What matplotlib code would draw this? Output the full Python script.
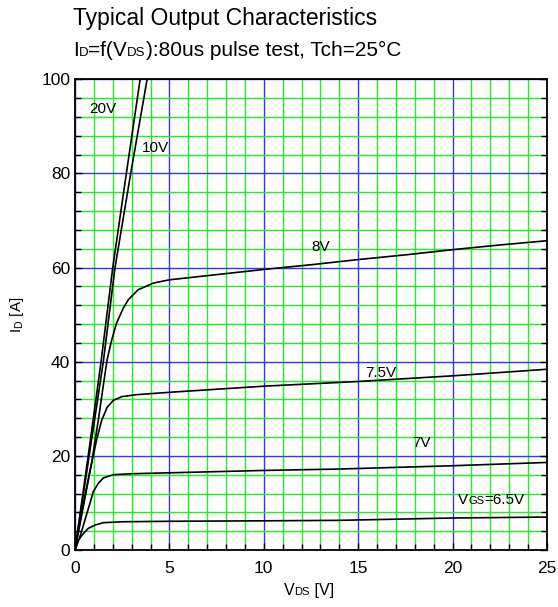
import numpy as np
import matplotlib
matplotlib.use('Agg')
import matplotlib.pyplot as plt
from matplotlib.ticker import MultipleLocator
from matplotlib.offsetbox import TextArea, HPacker, AnchoredOffsetbox

plt.rcParams['font.family'] = ['Liberation Sans', 'DejaVu Sans']
plt.rcParams['mathtext.fontset'] = 'custom'
plt.rcParams['mathtext.rm'] = 'Liberation Sans'

# curves (VDS [V], ID [A])
vds_20 = [0, 0.7, 1.38, 2.0, 2.72, 3.45]
id_20 = [0, 20, 40, 60, 80, 100]
vds_10 = [0, 0.75, 1.5, 2.12, 2.95, 3.82]
id_10 = [0, 20, 40, 60, 80, 100]
vds_8 = [0, 0.44, 0.88, 1.24, 1.5, 1.7, 1.95, 2.2, 2.56, 2.83, 3.35, 4.15, 5.0,
         7.5, 10, 12.5, 15, 17.5, 20, 22.5, 25]
id_8 = [0, 9.2, 18.5, 27.7, 35, 40.4, 44.7, 48.2, 51.4, 53.2, 55.3, 56.7, 57.4,
        58.5, 59.6, 60.6, 61.7, 62.7, 63.8, 64.8, 65.7]
vds_75 = [0, 0.4, 0.8, 1.15, 1.41, 1.7, 2.03, 2.5, 3.27, 5.0, 10, 15, 20, 25]
id_75 = [0, 9, 17, 23.5, 27.5, 30.3, 31.8, 32.6, 33.0, 33.5, 34.8, 35.8, 37.0, 38.4]
vds_7 = [0, 0.26, 0.53, 0.79, 0.97, 1.24, 1.5, 2.03, 3.0, 5.0, 10, 14, 20, 25]
id_7 = [0, 2.8, 6.4, 9.9, 12.4, 14.2, 15.3, 16.0, 16.2, 16.4, 16.9, 17.2, 17.9, 18.6]
vds_65 = [0, 0.18, 0.44, 0.71, 1.06, 1.5, 2.5, 5.0, 10, 14, 20, 25]
id_65 = [0, 2.1, 3.5, 4.6, 5.3, 5.8, 6.0, 6.1, 6.2, 6.3, 6.8, 7.0]

curves = [(vds_20, id_20), (vds_10, id_10), (vds_8, id_8),
          (vds_75, id_75), (vds_7, id_7), (vds_65, id_65)]


def sub_text(parts, big, small):
    # pieces of text, every second one written small on the same baseline
    boxes = []
    for i, p in enumerate(parts):
        size = small if i % 2 else big
        boxes.append(TextArea(p, textprops=dict(fontsize=size, color='black')))
    return HPacker(children=boxes, align='baseline', pad=0, sep=0)


def place(fig, box, x, y, loc='center left'):
    ab = AnchoredOffsetbox(loc=loc, child=box, bbox_to_anchor=(x, y),
                           bbox_transform=fig.transFigure, frameon=False,
                           pad=0, borderpad=0)
    fig.add_artist(ab)


fig = plt.figure(figsize=(5.58, 6.07), dpi=100)
ax = fig.add_axes([0.1344, 0.0939, 0.8459, 0.7755])

ax.set_xlim(0, 25)
ax.set_ylim(0, 100)
ax.xaxis.set_major_locator(MultipleLocator(5))
ax.xaxis.set_minor_locator(MultipleLocator(1))
ax.yaxis.set_major_locator(MultipleLocator(20))
ax.yaxis.set_minor_locator(MultipleLocator(4))

ax.grid(which='minor', color='#22ee22', lw=1.0, zorder=0)
ax.grid(which='major', color='#3333ff', lw=1.0, zorder=1)
ax.set_axisbelow(True)

for x, y in curves:
    ax.plot(x, y, color='black', lw=1.2, zorder=3)

ax.tick_params(which='both', direction='in', right=True, top=False,
               labelsize=12.5, color='black')
ax.tick_params(axis='x', which='major', pad=8)
ax.tick_params(which='major', length=5, width=1)
ax.tick_params(which='minor', length=4, width=1)
for s in ax.spines.values():
    s.set_linewidth(1.3)

ax.set_ylabel(r'I$_\mathregular{D}$ [A]', fontsize=11, labelpad=11)
place(fig, sub_text(['V', 'DS', ' [V]'], 11.5, 8), 0.553, 0.028, loc='center')

# curve labels
ax.text(1.47, 93.6, '20V', fontsize=11, ha='center', va='center')
ax.text(4.24, 85.5, '10V', fontsize=11, ha='center', va='center')
ax.text(13.0, 64.3, '8V', fontsize=11, ha='center', va='center')
ax.text(16.2, 37.7, '7.5V', fontsize=11, ha='center', va='center')
ax.text(18.36, 22.7, '7V', fontsize=11, ha='center', va='center')
vgs = sub_text(['V', 'GS', '=6.5V'], 11, 8)
ab = AnchoredOffsetbox(loc='center left', child=vgs, bbox_to_anchor=(20.3, 10.6),
                       bbox_transform=ax.transData, frameon=False, pad=0, borderpad=0)
ax.add_artist(ab)

fig.text(0.131, 0.970, 'Typical Output Characteristics', fontsize=16.5, va='center')
place(fig, sub_text(['I', 'D', '=f(V', 'DS', '):80us pulse test, Tch=25°C'], 15, 9.5),
      0.131, 0.917)

fig.savefig('out.png', dpi=100)
